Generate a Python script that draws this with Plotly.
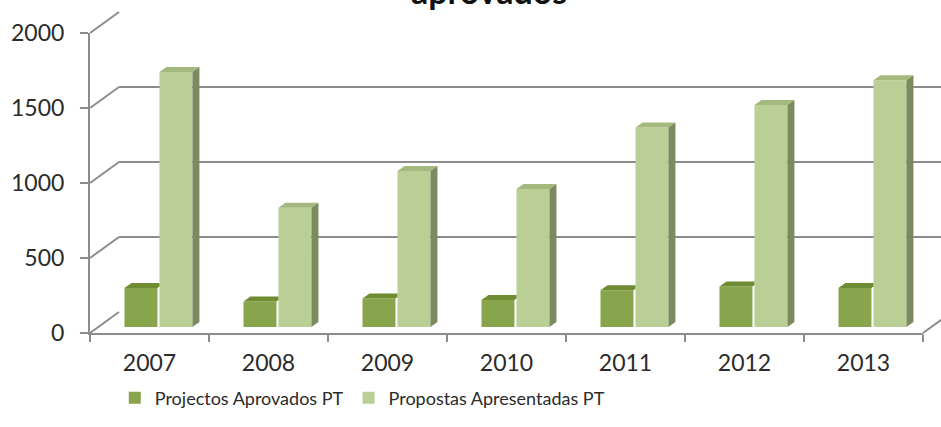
import plotly.graph_objects as go

W, H = 941, 427

years = ["2007", "2008", "2009", "2010", "2011", "2012", "2013"]
aprovados = [260, 170, 190, 180, 245, 270, 260]
apresentadas = [1700, 795, 1040, 920, 1330, 1480, 1645]
y_ticks = [0, 500, 1000, 1500, 2000]
series_names = ["Projectos Aprovados PT", "Propostas Apresentadas PT"]

DARK = "#88a44c"
DARK_TOP = "#6f8c32"
LIGHT = "#b9cf96"
LIGHT_TOP = "#a3b97d"
LIGHT_SIDE = "#7b8b5f"
GRID = "#8c8c8c"
TXT = "#2b2b2b"
FONT = "Lato"


def px(x):
    return x / W


def py(y):
    return 1 - y / H


# bar geometry (category units)
BW = 0.277
OFF_D = -0.29
OFF_L = 0.004
DX = 7 / 119          # depth shift in category units
DY = 33               # depth rise in value units

idx = list(range(len(years)))

fig = go.Figure()

# back wall (gridlines)
fig.add_trace(go.Scatter(x=[0], y=[0], xaxis="x", yaxis="y", mode="markers",
                         marker=dict(opacity=0), showlegend=False, hoverinfo="skip"))
# front axes (labels)
fig.add_trace(go.Scatter(x=years, y=[0] * len(years), xaxis="x2", yaxis="y2", mode="markers",
                         marker=dict(opacity=0), showlegend=False, hoverinfo="skip"))

# bars
fig.add_trace(go.Bar(x=idx, y=aprovados, xaxis="x3", yaxis="y3", name=series_names[0],
                     width=BW, offset=OFF_D, marker=dict(color=DARK, line=dict(width=0))))
fig.add_trace(go.Bar(x=idx, y=apresentadas, xaxis="x3", yaxis="y3", name=series_names[1],
                     width=BW, offset=OFF_L, marker=dict(color=LIGHT, line=dict(width=0))))

# 3D faces derived from the data
dtx, dty = [], []
for i, v in zip(idx, aprovados):
    x0 = i + OFF_D
    xr = x0 + BW
    xl = i + OFF_L
    frac = (xl - xr) / DX
    dtx += [x0, xr, xl, xl, x0 + DX, x0, None]
    dty += [v, v, v + DY * frac, v + DY, v + DY, v, None]
fig.add_trace(go.Scatter(x=dtx, y=dty, xaxis="x3", yaxis="y3", fill="toself", mode="lines",
                         line=dict(width=0), fillcolor=DARK_TOP, showlegend=False, hoverinfo="skip"))

ltx, lty, lsx, lsy = [], [], [], []
for i, v in zip(idx, apresentadas):
    x0 = i + OFF_L
    xr = x0 + BW
    ltx += [x0, xr, xr + DX, x0 + DX, x0, None]
    lty += [v, v, v + DY, v + DY, v, None]
    lsx += [xr, xr + DX, xr + DX, xr, xr, None]
    lsy += [0, DY, v + DY, v, 0, None]
fig.add_trace(go.Scatter(x=ltx, y=lty, xaxis="x3", yaxis="y3", fill="toself", mode="lines",
                         line=dict(width=0), fillcolor=LIGHT_TOP, showlegend=False, hoverinfo="skip"))
fig.add_trace(go.Scatter(x=lsx, y=lsy, xaxis="x3", yaxis="y3", fill="toself", mode="lines",
                         line=dict(width=0), fillcolor=LIGHT_SIDE, showlegend=False, hoverinfo="skip"))

# left wall diagonals and floor edge (decoration)
shapes = []
for t in y_ticks:
    shapes.append(dict(type="line", xref="paper", yref="paper",
                       x0=px(90), y0=py(333 - 0.15 * t), x1=px(119), y1=py(312 - 0.15 * t),
                       line=dict(color=GRID, width=2), layer="below"))
shapes.append(dict(type="line", xref="paper", yref="paper",
                   x0=px(923), y0=py(333), x1=px(952), y1=py(312),
                   line=dict(color=GRID, width=2), layer="below"))

fig.update_layout(
    width=W, height=H,
    margin=dict(l=0, r=0, t=0, b=0, autoexpand=False),
    paper_bgcolor="white",
    plot_bgcolor="rgba(0,0,0,0)",
    font=dict(family=FONT, color=TXT),
    barmode="overlay",
    shapes=shapes,
    xaxis=dict(domain=[px(119), 1], range=[0, 1], visible=False, anchor="y"),
    yaxis=dict(domain=[py(312), py(12)], range=[0, 2000], tickvals=y_ticks,
               showgrid=True, gridcolor=GRID, gridwidth=2, zeroline=False,
               showticklabels=False, ticks="", showline=False, anchor="x"),
    xaxis2=dict(domain=[px(90), px(923)], type="category", categoryorder="array",
                categoryarray=years, range=[-0.5, len(years) - 0.5], anchor="y2",
                showgrid=False, showline=True,
                linecolor=GRID, linewidth=2, ticks="outside", tickson="boundaries",
                ticklen=7, tickcolor=GRID, tickwidth=2,
                tickfont=dict(family=FONT, size=23, color=TXT), ticklabelstandoff=8),
    yaxis2=dict(domain=[py(333), py(33)], range=[0, 2000], tickvals=y_ticks,
                anchor="x2", showgrid=False, zeroline=False, showline=True,
                linecolor=GRID, linewidth=2, ticks="outside", ticklen=8,
                tickcolor=GRID, tickwidth=2,
                tickfont=dict(family=FONT, size=23, color=TXT), ticklabelstandoff=11),
    xaxis3=dict(domain=[px(99.5), px(932.5)], range=[-0.5, 6.5], visible=False, anchor="y3"),
    yaxis3=dict(domain=[py(327), py(27)], range=[0, 2000], visible=False, anchor="x3"),
    legend=dict(orientation="h", x=0.385, xanchor="center", y=py(398), yanchor="middle",
                font=dict(family=FONT, size=18, color=TXT), bgcolor="rgba(0,0,0,0)",
                itemwidth=30, tracegroupgap=0),
    annotations=[dict(text="<b>aprovados</b>", xref="paper", yref="paper",
                      x=px(489), y=py(13), xanchor="center", yanchor="bottom",
                      showarrow=False, font=dict(family=FONT, size=34, color="#111"))],
)

fig.write_html("out.html", config={"displayModeBar": False},
               post_script="document.body.style.margin='0px';")
